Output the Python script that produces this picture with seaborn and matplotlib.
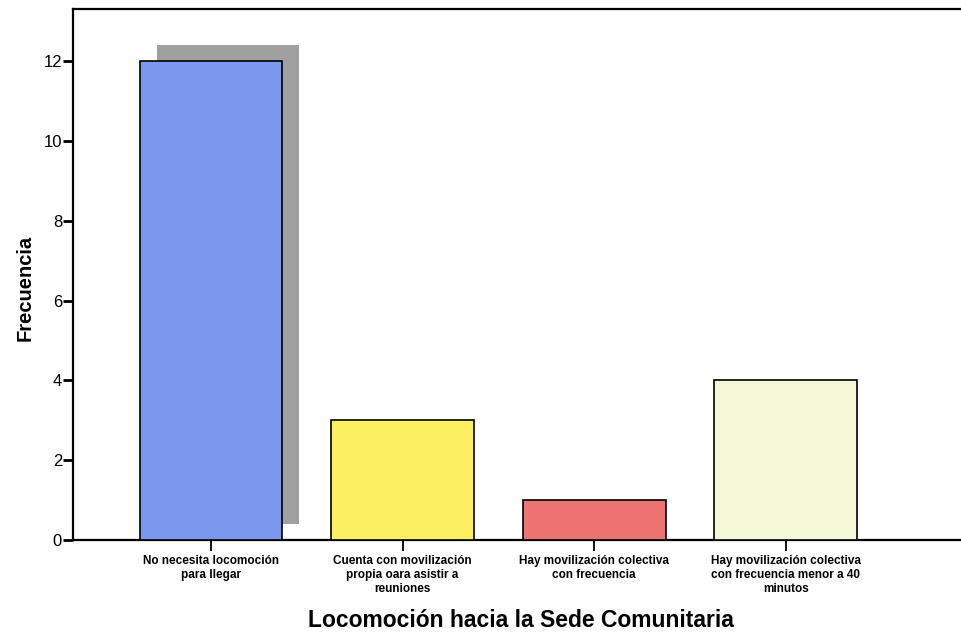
import matplotlib
matplotlib.use("Agg")
import matplotlib.pyplot as plt
import seaborn as sns
import pandas as pd
from matplotlib.patches import Rectangle
from matplotlib import transforms

categories = [
    "No necesita locomoción\npara llegar",
    "Cuenta con movilización\npropia oara asistir a\nreuniones",
    "Hay movilización colectiva\ncon frecuencia",
    "Hay movilización colectiva\ncon frecuencia menor a 40\nminutos",
]
frecuencia = [12, 3, 1, 4]
colores = ["#7b98ee", "#fcef60", "#ee7373", "#f5f8d6"]
y_ticks = [0, 2, 4, 6, 8, 10, 12]

sns.set_theme(style="white")
plt.rcParams["font.family"] = ["Liberation Sans", "DejaVu Sans"]
plt.rcParams["text.color"] = "black"
plt.rcParams["axes.labelcolor"] = "black"
plt.rcParams["xtick.color"] = "black"
plt.rcParams["ytick.color"] = "black"

df = pd.DataFrame({"cat": categories, "freq": frecuencia})

fig = plt.figure(figsize=(9.62, 6.37), dpi=100)
ax = fig.add_axes([0.076, 0.152, 0.93, 0.834])

sns.barplot(data=df, x="cat", y="freq", hue="cat", palette=colores,
            saturation=1, width=0.745, edgecolor="black", linewidth=1.2,
            legend=False, ax=ax, zorder=3)

# drop shadow behind the tallest bar
first = ax.patches[0]
shadow_tr = ax.transData + transforms.ScaledTranslation(17 / 100, 16 / 100, fig.dpi_scale_trans)
shadow = Rectangle((first.get_x(), first.get_y()), first.get_width(), first.get_height(),
                   facecolor="#a0a0a0", edgecolor="none", transform=shadow_tr, zorder=2)
ax.add_patch(shadow)

ax.set_ylim(0, 13.3)
ax.set_xlim(-0.72, 3.95)
ax.set_yticks(y_ticks)
ax.set_yticklabels([str(v) for v in y_ticks], fontsize=12)
ax.tick_params(axis="y", direction="out", length=7, width=2, pad=1, left=True)
ax.tick_params(axis="x", direction="out", length=8, width=1.3, pad=3, bottom=True,
               labelsize=8.5)
for lbl in ax.get_xticklabels():
    lbl.set_multialignment("center")
    lbl.set_linespacing(1.2)
    lbl.set_fontweight("bold")

for side in ["left", "top", "bottom"]:
    ax.spines[side].set_color("black")
    ax.spines[side].set_linewidth(1.6)
ax.spines["right"].set_visible(False)

ax.set_ylabel("Frecuencia", fontsize=14.5, fontweight="bold")
ax.yaxis.set_label_coords(-0.043, 0.475)
ax.set_xlabel("Locomoción hacia la Sede Comunitaria", fontsize=16.5,
              fontweight="bold", labelpad=10)

fig.savefig("out.png", dpi=100, facecolor="white")
